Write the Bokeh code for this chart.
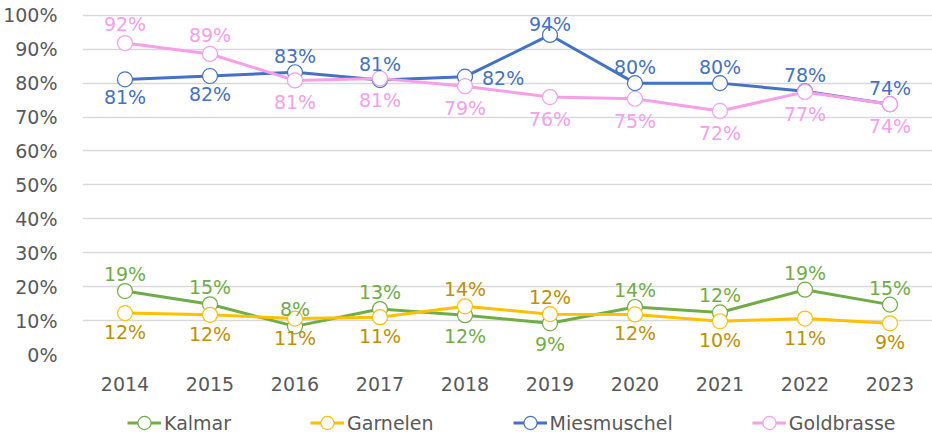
from bokeh.plotting import figure
from bokeh.layouts import column
from bokeh.models import (ColumnDataSource, FactorRange, Range1d, Legend, LegendItem,
                          PrintfTickFormatter, FixedTicker)
from bokeh.core.properties import value, field
from bokeh.embed import file_html
from bokeh.resources import INLINE

years = ["2014", "2015", "2016", "2017", "2018", "2019", "2020", "2021", "2022", "2023"]
kalmar = [18.7, 14.8, 8.3, 13.4, 11.6, 9.2, 14.0, 12.4, 19.1, 14.7]
garnelen = [12.2, 11.7, 10.6, 11.0, 14.2, 11.9, 11.8, 9.8, 10.6, 9.2]
miesmuschel = [81.1, 82.1, 83.2, 80.9, 81.9, 94.2, 80.0, 80.0, 77.6, 73.8]
goldbrasse = [91.8, 88.6, 80.8, 81.4, 79.1, 75.9, 75.4, 71.8, 77.4, 73.8]
y_ticks = [0, 10, 20, 30, 40, 50, 60, 70, 80, 90, 100]

# label placement per point: a = above, t = tight above, b = below, r = right
kalmar_pos = ["a", "a", "a", "a", "b", "b", "a", "a", "a", "a"]
garnelen_pos = ["b", "b", "b", "b", "a", "a", "b", "b", "b", "b"]
miesmuschel_pos = ["b", "b", "a", "a", "r", "t", "a", "a", "a", "a"]
goldbrasse_pos = ["a", "a", "b", "b", "b", "b", "b", "b", "b", "b"]

FONT = "DejaVu Sans"
FS = "19px"
GRAY = "#595959"

# name, values, placements, line colour, label colour, above offset, below offset
series = [
    ("Kalmar", kalmar, kalmar_pos, "#70AD47", "#70AD47", -17, 21),
    ("Garnelen", garnelen, garnelen_pos, "#FFC000", "#BF9000", -17, 19),
    ("Miesmuschel", miesmuschel, miesmuschel_pos, "#4472C4", "#4472C4", -16, 18),
    ("Goldbrasse", goldbrasse, goldbrasse_pos, "#F5A0E9", "#F5A0E9", -19, 22),
]

p = figure(x_range=FactorRange(factors=years, range_padding=0),
           y_range=Range1d(0, 102),
           width=932, height=400, output_backend="svg", toolbar_location=None,
           min_border_left=78, min_border_right=0, min_border_top=8, min_border_bottom=46)
p.outline_line_color = None
p.background_fill_color = "white"
p.border_fill_color = "white"

p.yaxis.ticker = FixedTicker(ticks=y_ticks)
p.yaxis.formatter = PrintfTickFormatter(format="%d%%")
p.yaxis.axis_line_color = None
p.yaxis.major_tick_line_color = None
p.yaxis.minor_tick_line_color = None
p.yaxis.major_label_standoff = 19
p.yaxis.major_label_text_font = FONT
p.yaxis.major_label_text_font_size = FS
p.yaxis.major_label_text_color = GRAY

p.xaxis.axis_line_color = None
p.xaxis.major_tick_line_color = None
p.xaxis.minor_tick_line_color = None
p.xaxis.major_label_standoff = 16
p.xaxis.major_label_text_font = FONT
p.xaxis.major_label_text_font_size = FS
p.xaxis.major_label_text_color = GRAY

p.xgrid.grid_line_color = None
p.ygrid.ticker = FixedTicker(ticks=y_ticks)
p.ygrid.grid_line_color = "#d9d9d9"
p.ygrid.grid_line_width = 1.5

# legend host strip (shares the x scale; its y window shows no data)
p2 = figure(width=932, height=41, output_backend="svg", toolbar_location=None,
            x_range=p.x_range, y_range=Range1d(1000, 1001),
            x_axis_type=None, y_axis_type=None,
            min_border_left=0, min_border_right=0, min_border_top=0, min_border_bottom=0)
p2.outline_line_color = None
p2.xgrid.grid_line_color = None
p2.ygrid.grid_line_color = None

items = []
label_sources = []
for name, vals, pos, col, lcol, up, down in series:
    src = ColumnDataSource(dict(x=years, y=vals))
    p.line("x", "y", source=src, line_color=col, line_width=3)
    p.scatter("x", "y", source=src, size=15, marker="circle",
              fill_color="white", line_color=col, line_width=1.2)
    ln2 = p2.line("x", "y", source=src, line_color=col, line_width=3)
    sc2 = p2.scatter("x", "y", source=src, size=15, marker="circle",
                     fill_color="white", line_color=col, line_width=1.2)
    items.append(LegendItem(label=name, renderers=[ln2, sc2]))
    xo, yo, al = [], [], []
    for ps in pos:
        if ps == "a":
            xo.append(0); yo.append(up); al.append("center")
        elif ps == "t":
            xo.append(0); yo.append(-11); al.append("center")
        elif ps == "b":
            xo.append(0); yo.append(down); al.append("center")
        else:
            xo.append(17); yo.append(1); al.append("left")
    lsrc = ColumnDataSource(dict(x=years, y=vals, t=[f"{round(v)}%" for v in vals],
                                 xo=xo, yo=yo, al=al))
    label_sources.append((lsrc, lcol))

for lsrc, lcol in label_sources:
    p.text("x", "y", text="t", source=lsrc, x_offset="xo", y_offset="yo",
           text_align=field("al"), text_baseline="middle",
           text_font=value(FONT), text_font_size=FS, text_color=lcol)

legend = Legend(items=items, orientation="horizontal", location=(45, 2),
                spacing=79, glyph_width=34, glyph_height=33, label_standoff=3,
                label_text_font=FONT, label_text_font_size=FS,
                label_text_color=GRAY, border_line_color=None,
                background_fill_alpha=0, padding=0, margin=0)
p2.add_layout(legend, "center")

layout = column(p, p2, spacing=0)
open("out.html", "w").write(file_html(layout, INLINE))
